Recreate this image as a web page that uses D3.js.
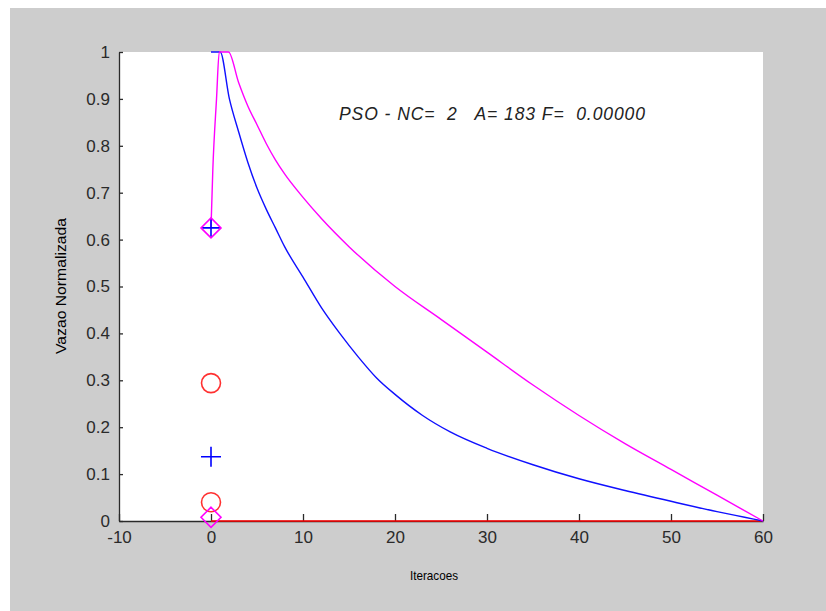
<!DOCTYPE html>
<html lang="en">
<head>
<meta charset="utf-8">
<title>PSO</title>
<script src="https://d3js.org/d3.v7.min.js"></script>
<style>
  body { margin: 0; background: #fff; }
  svg { display: block; }
  .note { white-space: pre; }
</style>
</head>
<body>
<script>
// curves
var blueX = [0, 1, 2, 3, 4, 5, 6, 7, 8, 10, 12, 14, 16, 18, 20, 23, 26, 30, 35, 40, 45, 50, 55, 58, 60];
var blueY = [1, 1, 0.9, 0.83, 0.765, 0.71, 0.665, 0.625, 0.585, 0.52, 0.455, 0.4, 0.35, 0.305, 0.27, 0.225, 0.19, 0.155, 0.12, 0.09, 0.065, 0.042, 0.02, 0.008, 0];

var magX = [0, 0.2, 0.6, 0.9, 1.9, 3, 4, 5, 6, 7, 8, 10, 12, 15, 20, 25, 30, 35, 40, 45, 50, 55, 60];
var magY = [0.625, 0.75, 0.9, 1, 1, 0.935, 0.885, 0.845, 0.805, 0.77, 0.74, 0.69, 0.645, 0.585, 0.5, 0.43, 0.36, 0.29, 0.225, 0.165, 0.11, 0.055, 0];

var redX = [0, 60];
var redY = [0, 0];

// markers at iteration 0
var plusY = [0.625, 0.137];
var circleY = [0.294, 0.04];
var diamondY = [0.625, 0.008];

var xTicks = [-10, 0, 10, 20, 30, 40, 50, 60];
var yTicks = [0, 0.1, 0.2, 0.3, 0.4, 0.5, 0.6, 0.7, 0.8, 0.9, 1];

var note = "PSO - NC=  2   A= 183 F=  0.00000";

var width = 826, height = 611;

var svg = d3.select("body").append("svg")
  .attr("width", width)
  .attr("height", height);

svg.append("rect")
  .attr("x", 10).attr("y", 8)
  .attr("width", width - 10).attr("height", height - 8)
  .attr("fill", "#cdcdcd");

var x = d3.scaleLinear().domain([-10, 60]).range([119, 763]);
var y = d3.scaleLinear().domain([0, 1]).range([521, 52]);

svg.append("rect")
  .attr("x", x(-10)).attr("y", y(1))
  .attr("width", x(60) - x(-10)).attr("height", y(0) - y(1))
  .attr("fill", "#fff");

var font = "'Liberation Sans', Arial, sans-serif";

var gx = svg.append("g")
  .attr("transform", "translate(0," + y(0) + ")")
  .call(d3.axisBottom(x).tickValues(xTicks).tickSize(-7).tickPadding(10).tickSizeOuter(0)
    .tickFormat(function(d) { return String(d); }));

var gy = svg.append("g")
  .attr("transform", "translate(" + x(-10) + ",0)")
  .call(d3.axisLeft(y).tickValues(yTicks).tickSize(-4).tickPadding(9).tickSizeOuter(0)
    .tickFormat(function(d) { return String(d); }));

[gx, gy].forEach(function(g) {
  g.selectAll("text").attr("font-family", font).attr("font-size", 17).attr("fill", "#2a2a2a");
  g.selectAll("line, path").attr("stroke", "#2a2a2a").attr("stroke-width", 1.3);
});

var line = d3.line()
  .x(function(d) { return x(d[0]); })
  .y(function(d) { return y(d[1]); })
  .curve(d3.curveMonotoneX);

svg.append("path")
  .datum(redX.map(function(v, i) { return [v, redY[i]]; }))
  .attr("d", line)
  .attr("fill", "none").attr("stroke", "#ff0000").attr("stroke-width", 1.5);

svg.append("path")
  .datum(blueX.map(function(v, i) { return [v, blueY[i]]; }))
  .attr("d", line)
  .attr("fill", "none").attr("stroke", "#1010ff").attr("stroke-width", 1.4);

svg.append("path")
  .datum(magX.map(function(v, i) { return [v, magY[i]]; }))
  .attr("d", line)
  .attr("fill", "none").attr("stroke", "#ff00ff").attr("stroke-width", 1.4);

var x0 = x(0);

svg.selectAll(".circ").data(circleY).enter().append("circle")
  .attr("cx", x0).attr("cy", function(d) { return y(d); }).attr("r", 9.5)
  .attr("fill", "none").attr("stroke", "#ff3030").attr("stroke-width", 1.6);

svg.selectAll(".plus").data(plusY).enter().append("path")
  .attr("d", function(d) {
    var cy = y(d);
    return "M" + (x0 - 10) + "," + cy + "H" + (x0 + 10) + "M" + x0 + "," + (cy - 10) + "V" + (cy + 10);
  })
  .attr("stroke", "#0000ff").attr("stroke-width", 1.6).attr("fill", "none");

svg.selectAll(".dia").data(diamondY).enter().append("path")
  .attr("d", function(d) {
    var cy = y(d);
    return "M" + x0 + "," + (cy - 10) + "L" + (x0 + 10) + "," + cy + "L" + x0 + "," + (cy + 10) + "L" + (x0 - 10) + "," + cy + "Z";
  })
  .attr("stroke", "#ff00ff").attr("stroke-width", 1.6).attr("fill", "none");

svg.append("text")
  .attr("x", 434).attr("y", 580)
  .attr("text-anchor", "middle")
  .attr("font-family", font).attr("font-size", 13).attr("fill", "#000")
  .attr("textLength", 48).attr("lengthAdjust", "spacingAndGlyphs")
  .text("Iteracoes");

svg.append("text")
  .attr("transform", "translate(66,286) rotate(-90)")
  .attr("text-anchor", "middle")
  .attr("font-family", font).attr("font-size", 14).attr("fill", "#000")
  .attr("textLength", 136).attr("lengthAdjust", "spacingAndGlyphs")
  .text("Vazao Normalizada");

svg.append("text")
  .attr("class", "note")
  .attr("x", 339).attr("y", 120)
  .attr("font-family", font).attr("font-size", 17.5).attr("font-style", "italic").attr("fill", "#222")
  .attr("textLength", 306).attr("lengthAdjust", "spacing")
  .text(note);
</script>
</body>
</html>
